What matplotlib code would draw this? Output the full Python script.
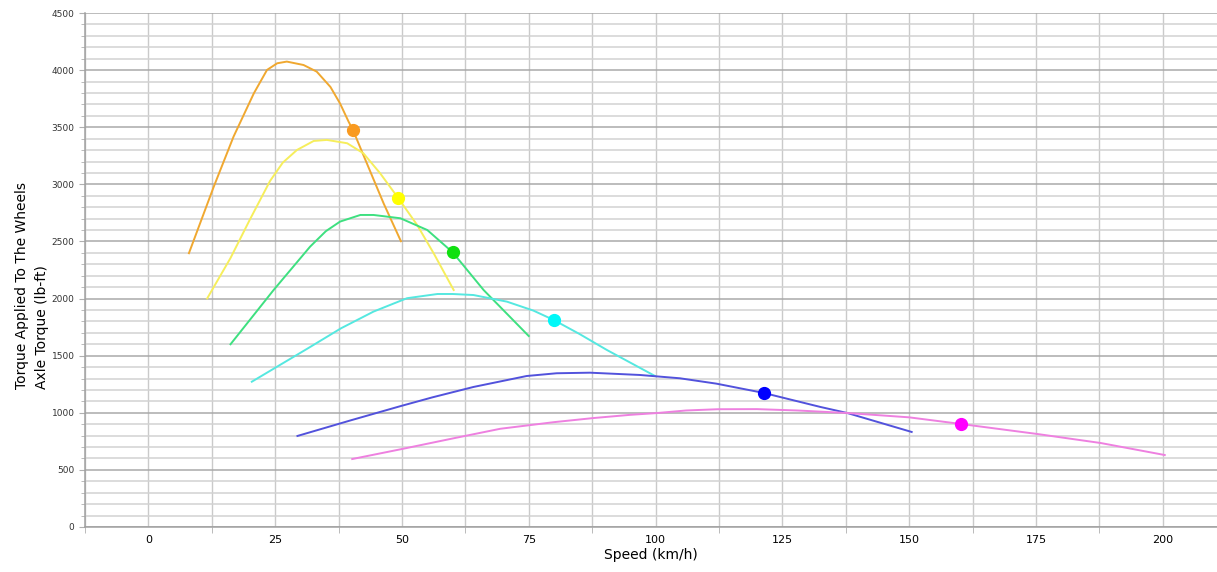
import numpy as np
import matplotlib
matplotlib.use('Agg')
import matplotlib.pyplot as plt
from matplotlib.ticker import MultipleLocator

# curves: speed (km/h) / axle torque (lb-ft)
orange_x = [8, 12.9, 16.8, 20.8, 23.4, 25.4, 27.3, 30.6, 33.2, 35.9, 37.8, 39.5, 40.3, 43.1, 46.4, 49.8]
orange_y = [2397, 2980, 3418, 3797, 4002, 4060, 4075, 4045, 3987, 3853, 3708, 3547, 3480, 3182, 2832, 2502]

yellow_x = [11.6, 16.2, 20, 24, 26.5, 29.3, 32.6, 35.2, 39.2, 42.4, 45.7, 49.3, 53, 56.3, 60.2]
yellow_y = [2001, 2355, 2690, 3030, 3190, 3301, 3380, 3389, 3360, 3272, 3097, 2878, 2644, 2393, 2075]

green_x = [16.2, 24.7, 31.9, 35, 37.8, 41.8, 44.4, 49.7, 55, 60, 66.1, 75]
green_y = [1600, 2075, 2455, 2590, 2674, 2732, 2732, 2703, 2600, 2405, 2075, 1672]

cyan_x = [20.4, 31.3, 38, 44.4, 48, 51, 57, 60, 64.1, 70.7, 75.9, 79.9, 85, 90.4, 99.9]
cyan_y = [1272, 1560, 1740, 1886, 1950, 2003, 2040, 2040, 2031, 1973, 1895, 1813, 1690, 1550, 1322]

blue_x = [29.4, 40, 49.7, 56, 64.1, 74.6, 80.5, 87.1, 96.9, 104.8, 112, 121.3, 132.5, 137.8, 150.5]
blue_y = [797, 935, 1058, 1135, 1226, 1322, 1346, 1351, 1331, 1302, 1255, 1174, 1051, 998, 832]

pink_x = [40.2, 49.7, 60, 69.4, 80, 87.8, 95, 100.4, 106, 112.2, 120, 128, 137.8, 150, 160.2, 175.3, 187.8, 200.4]
pink_y = [595, 680, 775, 860, 918, 954, 982, 998, 1020, 1031, 1032, 1020, 998, 960, 902, 814, 735, 630]

# operating points (dots)
dot_x = [40.3, 49.3, 60, 79.9, 121.3, 160.2]
dot_y = [3480, 2878, 2405, 1813, 1174, 902]

series = [(orange_x, orange_y, '#F0A830'), (yellow_x, yellow_y, '#F6EE5C'),
          (green_x, green_y, '#3EE080'), (cyan_x, cyan_y, '#55E8E0'),
          (blue_x, blue_y, '#5252DC'), (pink_x, pink_y, '#EE80E0')]
dot_colors = ['#F99A20', '#FFFF00', '#10E010', '#00F8F8', '#0000FF', '#FF00FF']

fig = plt.figure(figsize=(12.17, 5.72), dpi=100)
ax = fig.add_axes([0.0698, 0.0787, 0.9302, 0.8985])

for x, y, c in series:
    ax.plot(x, y, '-', color=c, lw=1.4, zorder=3, solid_joinstyle='round')
for x, y, c in zip(dot_x, dot_y, dot_colors):
    ax.plot(x, y, 'o', color=c, ms=8.5, mec=c, zorder=4)

ax.set_xlim(-12.5, 210.7)
ax.set_ylim(0, 4500)
ax.xaxis.set_major_locator(MultipleLocator(25))
ax.xaxis.set_minor_locator(MultipleLocator(12.5))
ax.yaxis.set_major_locator(MultipleLocator(500))
ax.yaxis.set_minor_locator(MultipleLocator(100))

ax.grid(True, which='major', axis='y', color='#a9a9a9', lw=1.1)
ax.grid(True, which='minor', axis='y', color='#d2d2d2', lw=1.1)
ax.grid(True, which='both', axis='x', color='#cacaca', lw=1.0)
ax.set_axisbelow(True)

for s in ['top', 'right']:
    ax.spines[s].set_visible(False)
for s in ['left', 'bottom']:
    ax.spines[s].set_color('#a0a0a0')
    ax.spines[s].set_linewidth(1.1)

ax.tick_params(axis='x', which='both', length=4, color='#b0b0b0', labelsize=8, pad=6)
ax.tick_params(axis='x', which='major', length=0)
ax.tick_params(axis='y', which='both', length=3, color='#b0b0b0', labelsize=6.5, labelcolor='#333333')
ax.tick_params(axis='y', which='major', length=4)

ax.set_xlabel('Speed (km/h)', fontsize=10, labelpad=2)
ax.set_ylabel('Torque Applied To The Wheels\nAxle Torque (lb-ft)', fontsize=10,
              multialignment='left', linespacing=1.55)
ax.yaxis.set_label_coords(-0.032, 0.47)

fig.savefig('out.png', dpi=100)
